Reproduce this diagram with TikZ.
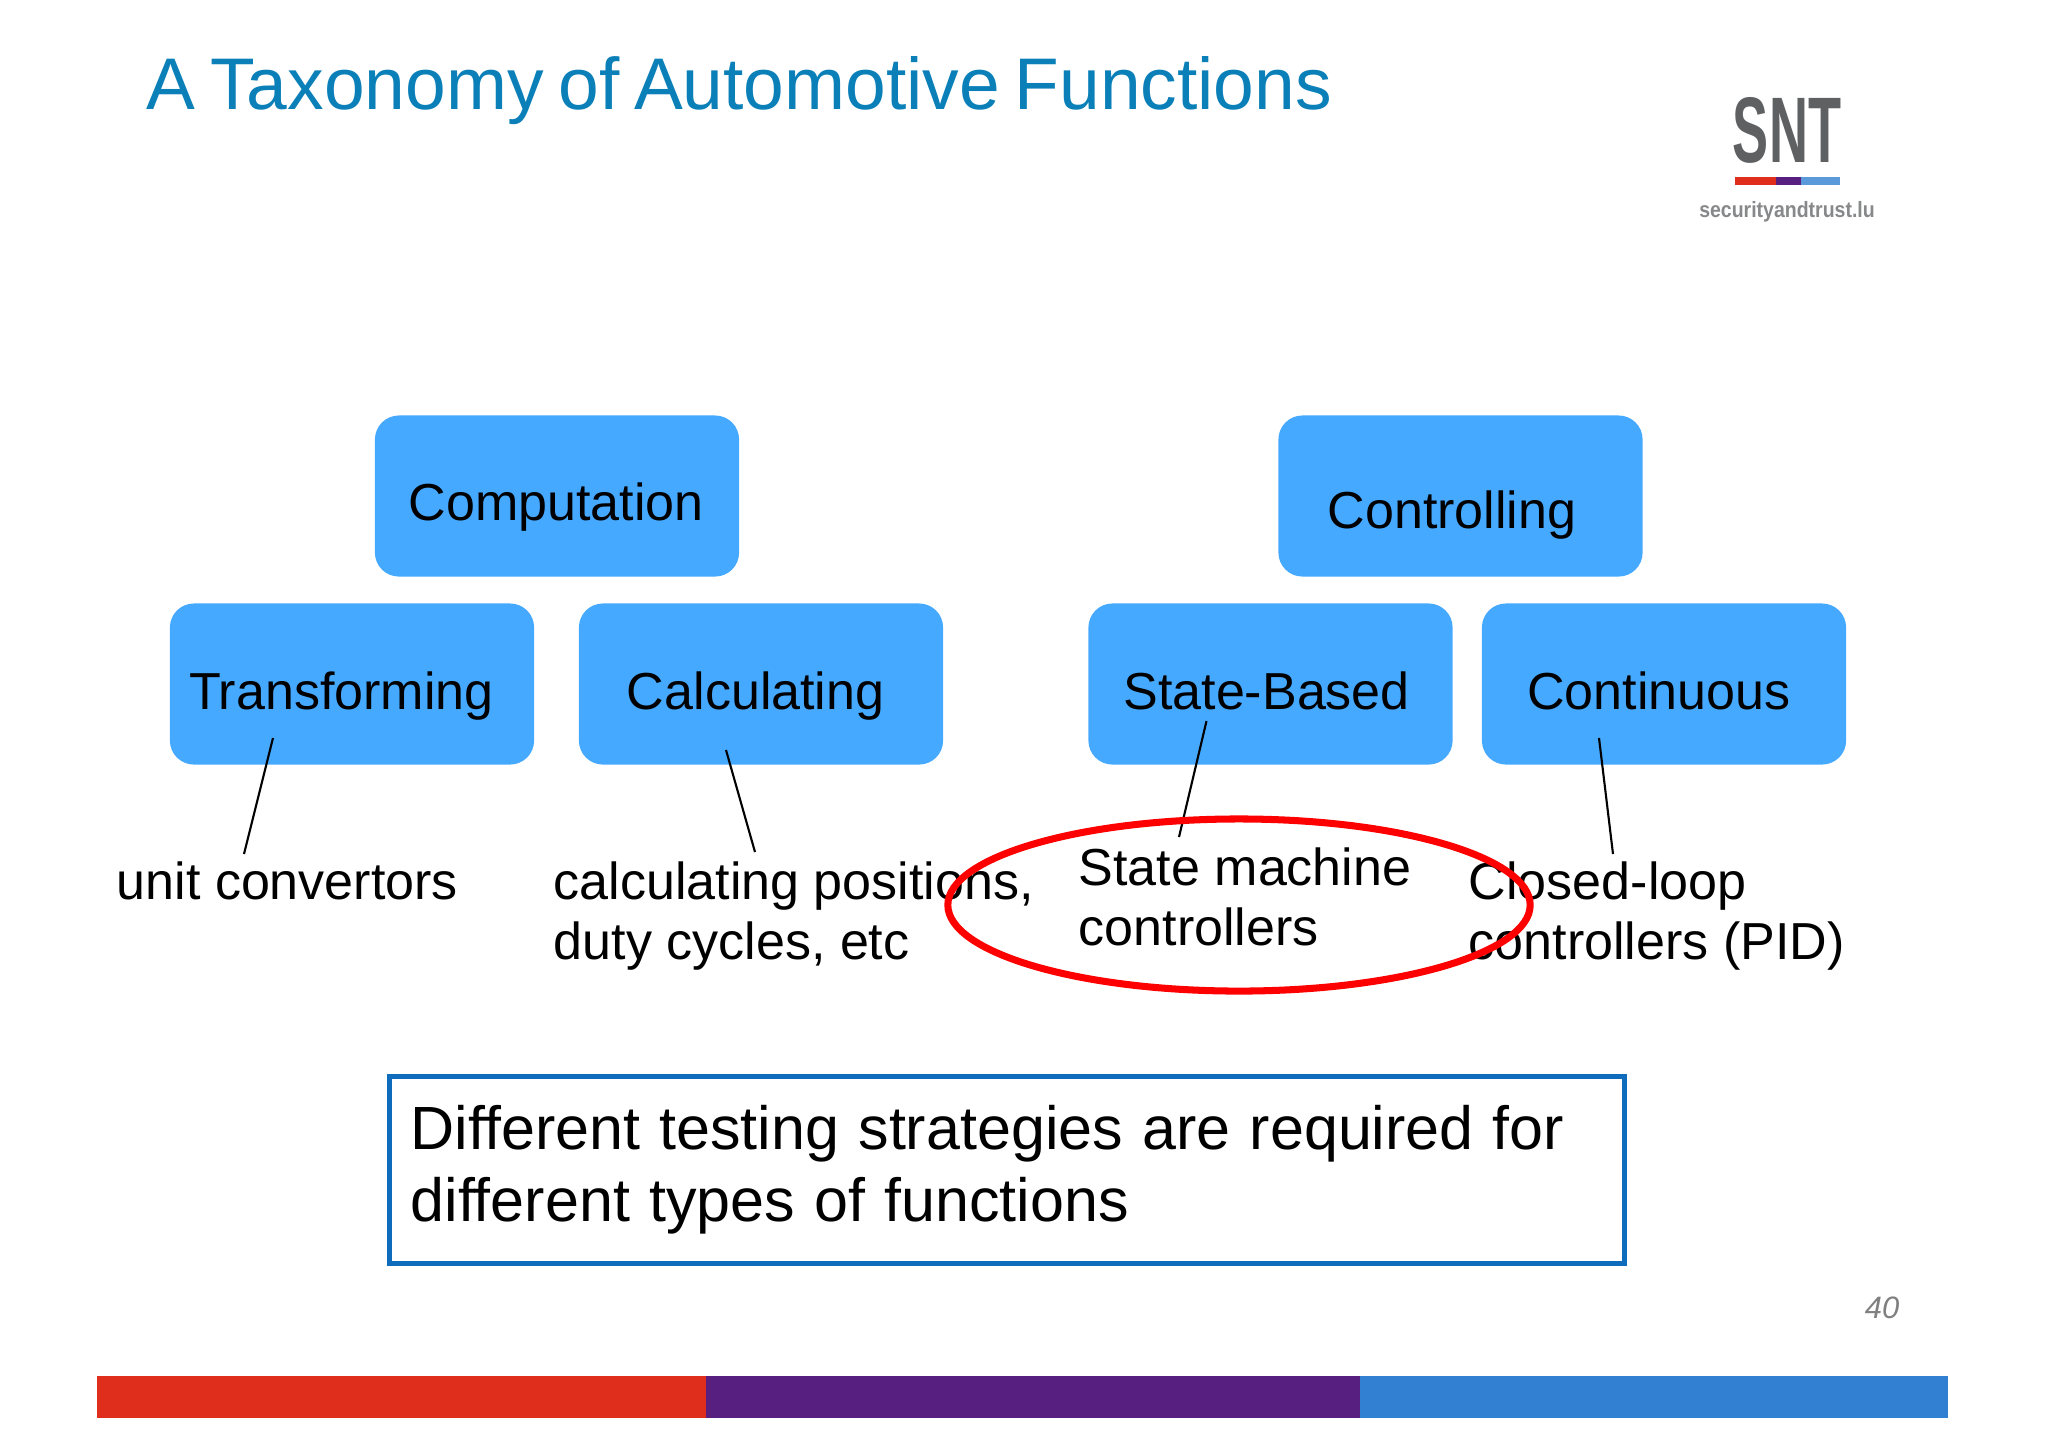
\documentclass[tikz,border=0pt]{standalone}
\usepackage{fontspec}
\usepackage{tikz}
\usetikzlibrary{calc,shapes.geometric}
\setmainfont{Liberation Sans}

\definecolor{titleblue}{HTML}{0B80B8}
\definecolor{boxblue}{HTML}{45A9FF}
\definecolor{frameblue}{HTML}{0F6CBD}
\definecolor{logogray}{HTML}{5F6062}
\definecolor{barred}{HTML}{DF2E1B}
\definecolor{barpurple}{HTML}{561F80}
\definecolor{barblue}{HTML}{3180D2}

\tikzset{
  funcbox/.style={fill=boxblue,rounded corners=0.24cm,minimum width=3.64cm,minimum height=1.61cm,
    inner sep=0pt,text height=14pt,text depth=0pt,font=\fontsize{14.8}{17}\selectfont},
  funclabel/.style={anchor=north west,inner sep=0pt,align=left,font=\fontsize{14.8}{17}\selectfont},
}

\begin{document}
\begin{tikzpicture}[x=0.01cm,y=-0.01cm]
        \useasboundingbox (0,0) rectangle (2048,1447);
        \node[anchor=base west,inner sep=0pt,text=titleblue,font=\fontsize{20.8}{24}\selectfont] (title) at (146,109) {\spaceskip=4.2pt A Taxonomy of Automotive Functions};

        % logo
        \node[inner sep=0pt,text=logogray,xscale=0.58,font=\fontsize{26.5}{30}\bfseries\selectfont,transform shape] (logo) at (1787,130) {SNT};
        \fill[barred] (1735,177) rectangle (1776,185);
        \fill[barpurple] (1776,177) rectangle (1801,185);
        \fill[barblue!80!white] (1801,177) rectangle (1840,185);
        \node[inner sep=0pt,text=logogray!75,xscale=0.88,font=\fontsize{6.3}{8}\bfseries\selectfont,transform shape] (logotext) at (1787,212) {securityandtrust.lu};

        % boxes
        \node[funcbox] (computation) at (557,496) {Computation\kern0.5pt};
        \node[funcbox] (controlling) at (1460.5,496) {\raisebox{-2.3pt}{Controlling}\kern4.8pt};
        \node[funcbox] (transforming) at (352,684) {\raisebox{-0.3pt}{Transforming}\kern6pt};
        \node[funcbox] (calculating) at (761,684) {\raisebox{-0.3pt}{Calculating}\kern3pt};
        \node[funcbox] (statebased) at (1270.5,684) {\raisebox{-0.3pt}{State-Based}\kern2.2pt};
        \node[funcbox] (continuous) at (1664,684) {\raisebox{-0.3pt}{Continuous}\kern3pt};

        % labels
        \node[funclabel] (unit) at (116,861) {unit convertors};
        \node[funclabel] (positions) at (553,861) {calculating positions,\\duty cycles, etc};
        \node[funclabel] (statemachine) at (1078,847) {State machine\\controllers};
        \node[funclabel] (closedloop) at (1468,861) {Closed-loop\\controllers (PID)};

        \draw[line width=0.6pt] ($(transforming.center)+(-79,54)$) -- ($(unit.north west)+(128,-7)$);
        \draw[line width=0.6pt] ($(calculating.center)+(-35,66)$) -- ($(positions.north west)+(202,-9)$);
        \draw[line width=0.6pt] ($(statebased.center)+(-64,37)$) -- ($(statemachine.north west)+(101,-10)$);
        \draw[line width=0.6pt] ($(continuous.center)+(-65,54)$) -- ($(closedloop.north west)+(145,-7)$);

        \node[draw=red,line width=2pt,ellipse,inner sep=0pt,minimum width=5.82cm,minimum height=1.72cm] (highlight) at (1239,905) {};

        % message
        \node[draw=frameblue,line width=1.4pt,inner xsep=0.21cm,inner ysep=0pt,minimum height=1.87cm,text width=11.92cm,align=left,
          font=\fontsize{17.35}{20.5}\selectfont] (message) at (1007,1170) {\spaceskip=5.5pt Different testing strategies are required for\\different types of functions};

        \node[anchor=east,inner sep=0pt,text=gray,font=\fontsize{8.8}{10}\itshape\selectfont] (pagenum) at (1900,1308) {40};

        % footer
        \fill[barred] (97,1376) rectangle (706,1418);
        \fill[barpurple] (706,1376) rectangle (1360,1418);
        \fill[barblue] (1360,1376) rectangle (1948,1418);
    \end{tikzpicture}
\end{document}
